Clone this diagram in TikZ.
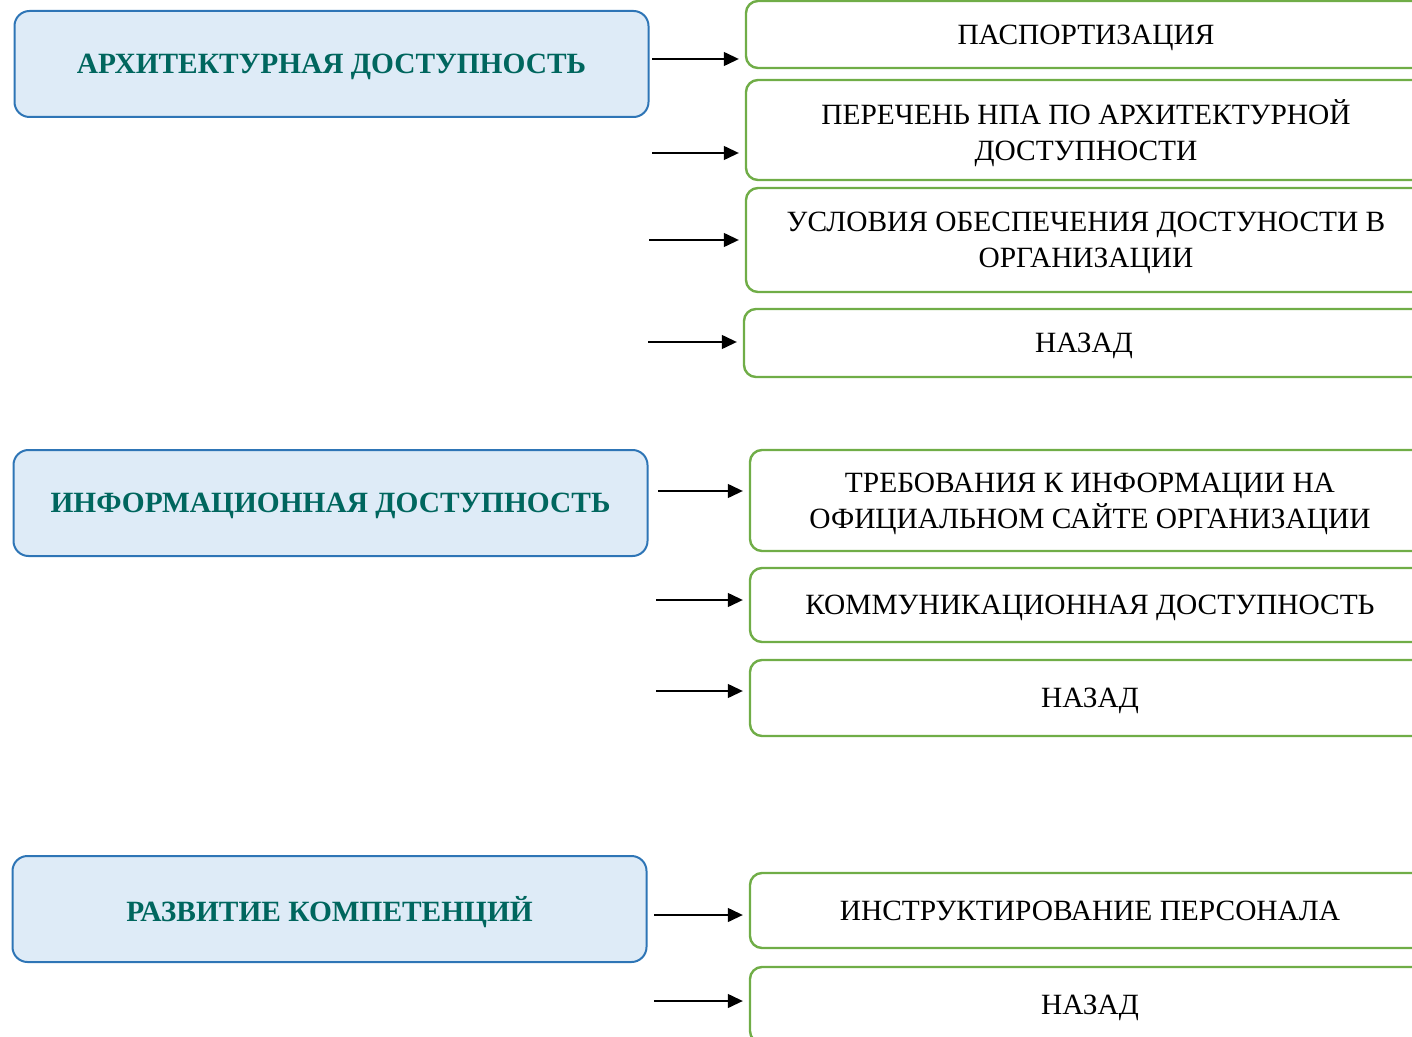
\documentclass[tikz,border=0pt]{standalone}
\usepackage{fontspec}
\setmainfont{Liberation Serif}
\usetikzlibrary{arrows.meta}
\definecolor{topicblue}{RGB}{46,117,182}
\definecolor{topicfill}{RGB}{222,235,247}
\definecolor{topictext}{RGB}{0,102,94}
\definecolor{itemgreen}{RGB}{112,173,71}

\begin{document}
\begin{tikzpicture}[x=0.5pt, y=-0.5pt,
  every node/.style = {shape=rectangle, align=center, inner sep=0pt,
    text depth=0pt, font=\fontsize{14.7}{18}\selectfont},
  topic/.style = {draw=topicblue, line width=1pt, fill=topicfill,
    rounded corners=7.5pt, minimum width=317pt, minimum height=53pt,
    text=topictext, font=\fontsize{14.7}{18}\selectfont\bfseries},
  item/.style = {draw=itemgreen, line width=1.2pt, rounded corners=6pt,
    minimum width=340pt}]
  \tikzstyle{link}=[-{Triangle[length=7.5pt,width=7pt]}, line width=0.65pt,
    shorten >=3pt]
  \clip (0,0) rectangle (1412,1037);

  % left column
  \node [topic] (arch) at (331.5,64) {АРХИТЕКТУРНАЯ ДОСТУПНОСТЬ};
  \node [topic] (info) at (330.5,503) {ИНФОРМАЦИОННАЯ ДОСТУПНОСТЬ};
  \node [topic] (comp) at (329.5,909) {РАЗВИТИЕ КОМПЕТЕНЦИЙ};

  % right column
  \node [item, minimum height=33.5pt] (r1) at (1086,34.5) {ПАСПОРТИЗАЦИЯ};
  \node [item, minimum height=50pt] (r2) at (1086,130)
    {ПЕРЕЧЕНЬ НПА ПО АРХИТЕКТУРНОЙ\\ДОСТУПНОСТИ};
  \node [item, minimum height=52pt] (r3) at (1086,240)
    {УСЛОВИЯ ОБЕСПЕЧЕНИЯ ДОСТУНОСТИ В\\ОРГАНИЗАЦИИ};
  \node [item, minimum height=34pt] (r4) at (1084,343) {НАЗАД};
  \node [item, minimum height=50.5pt] (r5) at (1090,500.5)
    {ТРЕБОВАНИЯ К ИНФОРМАЦИИ НА\\ОФИЦИАЛЬНОМ САЙТЕ ОРГАНИЗАЦИИ};
  \node [item, minimum height=37pt] (r6) at (1090,605) {КОММУНИКАЦИОННАЯ ДОСТУПНОСТЬ};
  \node [item, minimum height=38pt] (r7) at (1090,698) {НАЗАД};
  \node [item, minimum height=37.5pt] (r8) at (1090,910.5) {ИНСТРУКТИРОВАНИЕ ПЕРСОНАЛА};
  \node [item, minimum height=38pt] (r9) at (1090,1005) {НАЗАД};

  % arrows
  \foreach \i/\x/\y in {1/652/59, 2/652/153, 3/649/240, 4/648/342, 5/658/491,
      6/656/600, 7/656/691, 8/654/915, 9/654/1001}
    \coordinate (s\i) at (\x,\y);
  \foreach \i in {1,...,9}
    \draw [link] (s\i) -- (s\i -| r\i.west);
\end{tikzpicture}
\end{document}
